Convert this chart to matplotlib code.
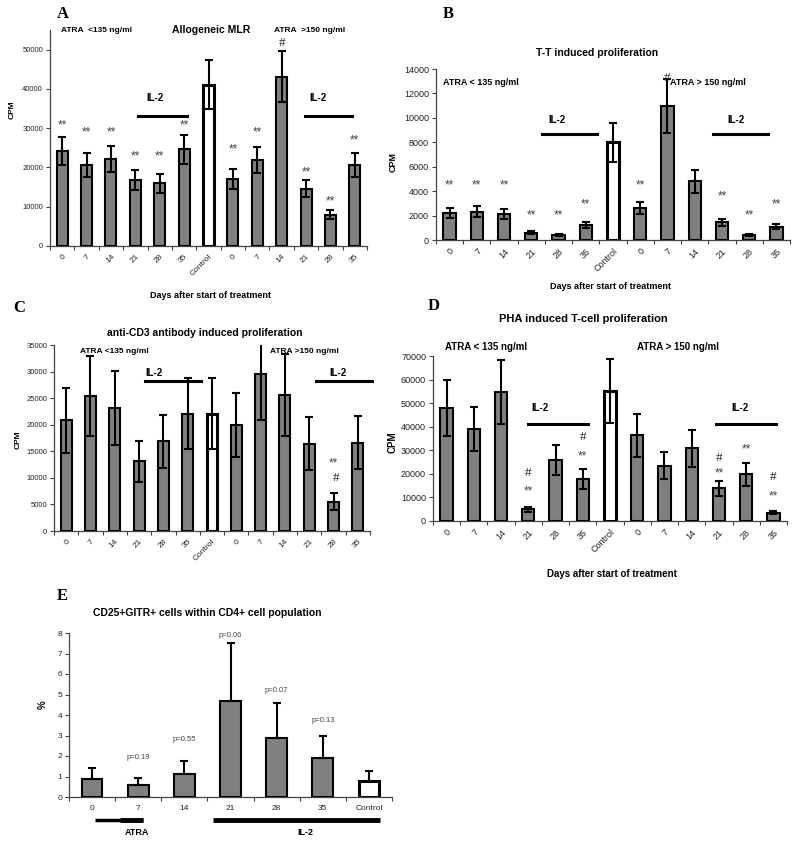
import numpy as np
import matplotlib.pyplot as plt

plt.rcParams['font.family'] = ['Liberation Sans', 'DejaVu Sans']

days = ['0', '7', '14', '21', '28', '35', 'Control', '0', '7', '14', '21', '28', '35']

# A - allogeneic MLR
mlr_mean = [24100, 20600, 22100, 16800, 16000, 24600, 41100, 17000, 21900, 43100, 14600, 8000, 20600]
mlr_err = [3600, 3100, 3300, 2500, 2400, 3700, 6200, 2500, 3300, 6500, 2200, 1200, 3100]
mlr_marks = [(0, 30600, '**'), (1, 28900, '**'), (2, 28900, '**'), (3, 22900, '**'), (4, 22900, '**'),
             (5, 30600, '**'), (7, 24600, '**'), (8, 28900, '**'), (9, 51800, '#'), (10, 18800, '**'),
             (11, 11400, '**'), (12, 26900, '**')]

# B - T-T induced proliferation
tt_mean = [2200, 2300, 2100, 600, 400, 1200, 8000, 2600, 11000, 4800, 1450, 400, 1100]
tt_err = [400, 450, 400, 100, 80, 250, 1600, 500, 2200, 950, 300, 80, 200]
tt_marks = [(0, 4500, '**'), (1, 4500, '**'), (2, 4500, '**'), (3, 2050, '**'), (4, 2050, '**'),
            (5, 2950, '**'), (7, 4500, '**'), (8, 13300, '#'), (10, 3600, '**'), (11, 2050, '**'),
            (12, 2950, '**')]

# C - anti-CD3 induced proliferation
cd3_mean = [20800, 25400, 23100, 13100, 16900, 22100, 22100, 20000, 29600, 25600, 16400, 5500, 16600]
cd3_err = [6100, 7600, 7000, 3800, 5000, 6600, 6600, 6000, 8800, 7700, 5000, 1600, 5000]
cd3_marks = [(11, 12700, '**'), (11.1, 9900, '#')]

# D - PHA induced proliferation
pha_mean = [48000, 39000, 54800, 5000, 26000, 17800, 55200, 36300, 23500, 30800, 13800, 19800, 3600]
pha_err = [12000, 9500, 13500, 1100, 6300, 4300, 13500, 9300, 5800, 7800, 3300, 4800, 800]
pha_marks = [(3, 12700, '**'), (3, 20200, '#'), (5, 27300, '**'), (5, 35500, '#'), (10, 20200, '**'),
             (10, 26900, '#'), (11, 30400, '**'), (12, 10300, '**'), (12, 18800, '#')]

# E - CD25+GITR+ cells
e_days = ['0', '7', '14', '21', '28', '35', 'Control']
e_mean = [0.9, 0.6, 1.1, 4.7, 2.87, 1.9, 0.8]
e_err = [0.5, 0.35, 0.65, 2.8, 1.73, 1.1, 0.45]
e_pvals = [(1, 1.95, 'p=0.19'), (2, 2.8, 'p=0.55'), (3, 7.9, 'p=0.06'), (4, 5.2, 'p=0.07'), (5, 3.75, 'p=0.13')]

W, H = 800, 844
fig = plt.figure(figsize=(8, 8.44), dpi=100)


def box(x0, x1, ytop, ybot):
    return [x0 / W, 1 - ybot / H, (x1 - x0) / W, (ybot - ytop) / H]


def bars(ax, labels, mean, err, ctrl, ymax, ystep, fs, xfs, rot=True, both=True):
    x = np.arange(len(labels))
    cols = ['white' if i == ctrl else '#808080' for i in x]
    lws = [2.2 if i == ctrl else 1.5 for i in x]
    ax.bar(x, mean, width=0.45, color=cols, edgecolor='black', linewidth=lws, zorder=2)
    if both:
        yerr = err
    else:
        yerr = [np.zeros(len(err)), err]
    ax.errorbar(x, mean, yerr=yerr, fmt='none', ecolor='black', elinewidth=1.5,
                capsize=3, capthick=1.5, zorder=3)
    ax.set_xlim(-0.5, len(labels) - 0.5)
    ax.set_ylim(0, ymax)
    ax.set_yticks(np.arange(0, ymax + 1e-9, ystep))
    ax.set_xticks(x)
    ax.set_xticks(np.arange(-0.5, len(labels)), minor=True)
    if rot:
        ax.set_xticklabels(labels, rotation=45, ha='right', va='top', rotation_mode='anchor')
    else:
        ax.set_xticklabels(labels)
    ax.tick_params(axis='x', which='major', length=0, pad=5, labelsize=xfs, labelcolor='#222222')
    ax.tick_params(axis='x', which='minor', length=3, width=0.8, color='#444444')
    ax.tick_params(axis='y', length=3, width=0.8, color='#444444', labelsize=fs, labelcolor='#222222', pad=2)
    for s in ['top', 'right']:
        ax.spines[s].set_visible(False)
    for s in ['left', 'bottom']:
        ax.spines[s].set_linewidth(0.9)
        ax.spines[s].set_color('#444444')


def marks(ax, items):
    for xi, yi, t in items:
        if t == '#':
            ax.text(xi, yi, t, ha='center', va='center', fontsize=9.5,
                    family=['Liberation Serif', 'DejaVu Serif'], color='#222222', clip_on=False)
        else:
            ax.text(xi, yi, t, ha='center', va='center', fontsize=8.5, color='#444444', clip_on=False)


def il2(ax, x0, x1, yline, xt, yt, fs):
    ax.plot([x0, x1], [yline, yline], color='black', lw=2.2, clip_on=False, zorder=4)
    ax.text(xt, yt, 'IL-2', ha='center', va='center', fontsize=fs, fontweight='bold')


serif = ['Liberation Serif', 'DejaVu Serif']

# ---- A
axA = fig.add_axes(box(50, 367, 30, 246))
bars(axA, days, mlr_mean, mlr_err, 6, 55000, 10000, 5.5, 6)
axA.set_yticks(np.arange(0, 50001, 10000))
marks(axA, mlr_marks)
il2(axA, 3.1, 5.1, 33200, 3.8, 37600, 7)
il2(axA, 9.95, 11.9, 33200, 10.5, 37600, 7)
axA.text(0.035, 1.0, 'ATRA  <135 ng/ml', transform=axA.transAxes, fontsize=6, fontweight='bold', va='center')
axA.text(0.707, 1.0, 'ATRA  >150 ng/ml', transform=axA.transAxes, fontsize=6, fontweight='bold', va='center')
axA.text(0.508, 1.0, 'Allogeneic MLR', transform=axA.transAxes, fontsize=7.5, fontweight='bold',
         ha='center', va='center')
axA.text(0.04, 1.074, 'A', transform=axA.transAxes, fontsize=12, fontweight='bold', family=serif,
         ha='center', va='center')
axA.text(-0.12, 0.63, 'CPM', transform=axA.transAxes, fontsize=6, fontweight='bold', rotation=90,
         ha='center', va='center')
axA.text(0.505, -0.23, 'Days after start of treatment', transform=axA.transAxes, fontsize=6.5,
         fontweight='bold', ha='center', va='center')

# ---- B
axB = fig.add_axes(box(436, 790, 69, 240))
bars(axB, days, tt_mean, tt_err, 6, 14000, 2000, 6.5, 6.5)
marks(axB, tt_marks)
il2(axB, 3.4, 5.42, 8700, 3.95, 9800, 7)
il2(axB, 9.68, 11.7, 8700, 10.5, 9800, 7)
axB.text(-0.25, 12900, 'ATRA < 135 ng/ml', fontsize=6.5, fontweight='bold', va='center')
axB.text(8.1, 12900, 'ATRA > 150 ng/ml', fontsize=6.5, fontweight='bold', va='center')
axB.text(0.455, 1.094, 'T-T induced proliferation', transform=axB.transAxes, fontsize=7.5,
         fontweight='bold', ha='center', va='center')
axB.text(0.034, 1.32, 'B', transform=axB.transAxes, fontsize=12, fontweight='bold', family=serif,
         ha='center', va='center')
axB.text(-0.121, 0.456, 'CPM', transform=axB.transAxes, fontsize=6.5, fontweight='bold', rotation=90,
         ha='center', va='center')
axB.text(0.494, -0.27, 'Days after start of treatment', transform=axB.transAxes, fontsize=6.5,
         fontweight='bold', ha='center', va='center')

# ---- C
axC = fig.add_axes(box(54, 370, 345, 531))
bars(axC, days, cd3_mean, cd3_err, 6, 35000, 5000, 5.5, 6)
marks(axC, cd3_marks)
il2(axC, 3.24, 5.55, 28200, 3.6, 29700, 7)
il2(axC, 10.28, 12.6, 28200, 11.19, 29700, 7)
axC.text(0.57, 33800, 'ATRA <135 ng/ml', fontsize=6, fontweight='bold', va='center')
axC.text(8.39, 33800, 'ATRA >150 ng/ml', fontsize=6, fontweight='bold', va='center')
axC.text(0.478, 1.065, 'anti-CD3 antibody induced proliferation', transform=axC.transAxes, fontsize=7.5,
         fontweight='bold', ha='center', va='center')
axC.text(-0.11, 1.2, 'C', transform=axC.transAxes, fontsize=12, fontweight='bold', family=serif,
         ha='center', va='center')
axC.text(-0.114, 0.49, 'CPM', transform=axC.transAxes, fontsize=6, fontweight='bold', rotation=90,
         ha='center', va='center')

# ---- D
axD = fig.add_axes(box(433, 787, 356, 521))
bars(axD, days, pha_mean, pha_err, 6, 70000, 10000, 6.5, 6.5)
marks(axD, pha_marks)
il2(axD, 2.99, 5.2, 41000, 3.43, 48000, 7)
il2(axD, 9.9, 12.1, 41000, 10.79, 48000, 7)
axD.text(-0.06, 1.055, 'ATRA < 135 ng/ml', transform=axD.get_xaxis_transform(), fontsize=7,
         fontweight='bold', va='center')
axD.text(7.0, 1.055, 'ATRA > 150 ng/ml', transform=axD.get_xaxis_transform(), fontsize=7,
         fontweight='bold', va='center')
axD.text(0.424, 1.224, 'PHA induced T-cell proliferation', transform=axD.transAxes, fontsize=8,
         fontweight='bold', ha='center', va='center')
axD.text(0.003, 1.3, 'D', transform=axD.transAxes, fontsize=12, fontweight='bold', family=serif,
         ha='center', va='center')
axD.text(-0.113, 0.48, 'CPM', transform=axD.transAxes, fontsize=7, fontweight='bold', rotation=90,
         ha='center', va='center')
axD.text(0.505, -0.32, 'Days after start of treatment', transform=axD.transAxes, fontsize=7,
         fontweight='bold', ha='center', va='center')

# ---- E
axE = fig.add_axes(box(69, 392, 633, 797))
bars(axE, e_days, e_mean, e_err, 6, 8, 1, 6, 6, rot=False, both=False)
axE.tick_params(axis='x', which='major', pad=6)
for xi, yi, t in e_pvals:
    axE.text(xi, yi, t, ha='center', va='center', fontsize=5.5, color='#444444')
axE.plot([0.06, 1.1], [-1.12, -1.12], color='black', lw=2.5, clip_on=False, solid_capstyle='butt')
axE.plot([0.6, 1.1], [-1.12, -1.12], color='black', lw=3.5, clip_on=False, solid_capstyle='butt')
axE.plot([2.62, 6.25], [-1.12, -1.12], color='black', lw=3.5, clip_on=False, solid_capstyle='butt')
axE.text(0.97, -1.75, 'ATRA', ha='center', va='center', fontsize=6.5, fontweight='bold')
axE.text(4.62, -1.75, 'IL-2', ha='center', va='center', fontsize=6.5, fontweight='bold')
axE.text(0.427, 1.12, 'CD25+GITR+ cells within CD4+ cell population', transform=axE.transAxes,
         fontsize=7.5, fontweight='bold', ha='center', va='center')
axE.text(-0.02, 1.226, 'E', transform=axE.transAxes, fontsize=12, fontweight='bold', family=serif,
         ha='center', va='center')
axE.text(-0.08, 0.56, '%', transform=axE.transAxes, fontsize=7, fontweight='bold', rotation=90,
         ha='center', va='center')

fig.savefig('out.png', dpi=100)
